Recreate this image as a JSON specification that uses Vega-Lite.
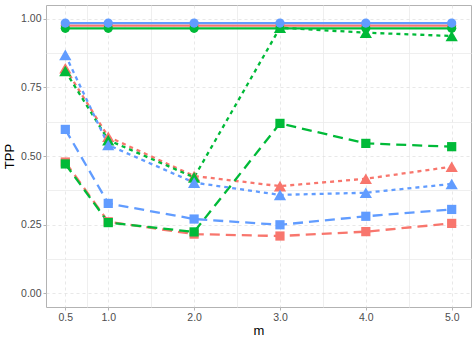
{
  "$schema": "https://vega.github.io/schema/vega-lite/v6.json",
  "width": 425,
  "height": 302,
  "autosize": "none",
  "padding": {"left": 46, "top": 5, "right": 5, "bottom": 33},
  "background": "white",
  "config": {
    "view": {"stroke": "#B3B3B3", "strokeWidth": 1},
    "font": "Liberation Sans",
    "axis": {
      "labelColor": "#4D4D4D",
      "labelFontSize": 10.5,
      "titleColor": "#000000",
      "titleFontSize": 13,
      "titleFontWeight": "normal",
      "tickColor": "#B3B3B3",
      "tickSize": 3,
      "domain": false,
      "labelPadding": 2
    }
  },
  "data": {
    "values": [
      {"m": 0.5, "TPP": 0.976, "method": "A", "type": "circle"},
      {"m": 1.0, "TPP": 0.976, "method": "A", "type": "circle"},
      {"m": 2.0, "TPP": 0.976, "method": "A", "type": "circle"},
      {"m": 3.0, "TPP": 0.976, "method": "A", "type": "circle"},
      {"m": 4.0, "TPP": 0.976, "method": "A", "type": "circle"},
      {"m": 5.0, "TPP": 0.976, "method": "A", "type": "circle"},
      {"m": 0.5, "TPP": 0.820, "method": "A", "type": "triangle"},
      {"m": 1.0, "TPP": 0.570, "method": "A", "type": "triangle"},
      {"m": 2.0, "TPP": 0.427, "method": "A", "type": "triangle"},
      {"m": 3.0, "TPP": 0.390, "method": "A", "type": "triangle"},
      {"m": 4.0, "TPP": 0.417, "method": "A", "type": "triangle"},
      {"m": 5.0, "TPP": 0.461, "method": "A", "type": "triangle"},
      {"m": 0.5, "TPP": 0.478, "method": "A", "type": "square"},
      {"m": 1.0, "TPP": 0.260, "method": "A", "type": "square"},
      {"m": 2.0, "TPP": 0.215, "method": "A", "type": "square"},
      {"m": 3.0, "TPP": 0.208, "method": "A", "type": "square"},
      {"m": 4.0, "TPP": 0.224, "method": "A", "type": "square"},
      {"m": 5.0, "TPP": 0.254, "method": "A", "type": "square"},
      {"m": 0.5, "TPP": 0.966, "method": "B", "type": "circle"},
      {"m": 1.0, "TPP": 0.966, "method": "B", "type": "circle"},
      {"m": 2.0, "TPP": 0.966, "method": "B", "type": "circle"},
      {"m": 3.0, "TPP": 0.966, "method": "B", "type": "circle"},
      {"m": 4.0, "TPP": 0.966, "method": "B", "type": "circle"},
      {"m": 5.0, "TPP": 0.966, "method": "B", "type": "circle"},
      {"m": 0.5, "TPP": 0.810, "method": "B", "type": "triangle"},
      {"m": 1.0, "TPP": 0.558, "method": "B", "type": "triangle"},
      {"m": 2.0, "TPP": 0.422, "method": "B", "type": "triangle"},
      {"m": 3.0, "TPP": 0.968, "method": "B", "type": "triangle"},
      {"m": 4.0, "TPP": 0.950, "method": "B", "type": "triangle"},
      {"m": 5.0, "TPP": 0.938, "method": "B", "type": "triangle"},
      {"m": 0.5, "TPP": 0.471, "method": "B", "type": "square"},
      {"m": 1.0, "TPP": 0.257, "method": "B", "type": "square"},
      {"m": 2.0, "TPP": 0.223, "method": "B", "type": "square"},
      {"m": 3.0, "TPP": 0.619, "method": "B", "type": "square"},
      {"m": 4.0, "TPP": 0.546, "method": "B", "type": "square"},
      {"m": 5.0, "TPP": 0.534, "method": "B", "type": "square"},
      {"m": 0.5, "TPP": 0.985, "method": "C", "type": "circle"},
      {"m": 1.0, "TPP": 0.985, "method": "C", "type": "circle"},
      {"m": 2.0, "TPP": 0.985, "method": "C", "type": "circle"},
      {"m": 3.0, "TPP": 0.985, "method": "C", "type": "circle"},
      {"m": 4.0, "TPP": 0.985, "method": "C", "type": "circle"},
      {"m": 5.0, "TPP": 0.985, "method": "C", "type": "circle"},
      {"m": 0.5, "TPP": 0.869, "method": "C", "type": "triangle"},
      {"m": 1.0, "TPP": 0.540, "method": "C", "type": "triangle"},
      {"m": 2.0, "TPP": 0.403, "method": "C", "type": "triangle"},
      {"m": 3.0, "TPP": 0.358, "method": "C", "type": "triangle"},
      {"m": 4.0, "TPP": 0.366, "method": "C", "type": "triangle"},
      {"m": 5.0, "TPP": 0.398, "method": "C", "type": "triangle"},
      {"m": 0.5, "TPP": 0.597, "method": "C", "type": "square"},
      {"m": 1.0, "TPP": 0.327, "method": "C", "type": "square"},
      {"m": 2.0, "TPP": 0.270, "method": "C", "type": "square"},
      {"m": 3.0, "TPP": 0.249, "method": "C", "type": "square"},
      {"m": 4.0, "TPP": 0.280, "method": "C", "type": "square"},
      {"m": 5.0, "TPP": 0.305, "method": "C", "type": "square"}
    ]
  },
  "encoding": {
    "x": {
      "field": "m",
      "type": "quantitative",
      "title": "m",
      "scale": {"domain": [0.275, 5.225], "nice": false, "zero": false},
      "axis": {
        "values": [0.5, 0.75, 1, 1.5, 2, 2.5, 3, 3.5, 4, 4.5, 5],
        "labelExpr": "indexof([0.5,1,2,3,4,5], datum.value) >= 0 ? format(datum.value, '.1f') : ''",
        "labelFlush": false,
        "titleColor": "#000000",
        "grid": true,
        "gridColor": {"condition": {"test": "indexof([0.5,1,2,3,4,5], datum.value) >= 0", "value": "#DEDEDE"}, "value": "#EBEBEB"},
        "gridDash": {"condition": {"test": "indexof([0.5,1,2,3,4,5], datum.value) >= 0", "value": [3, 3]}, "value": []},
        "gridWidth": {"condition": {"test": "indexof([0.5,1,2,3,4,5], datum.value) >= 0", "value": 0.7}, "value": 0.8},
        "tickOpacity": {"condition": {"test": "indexof([0.5,1,2,3,4,5], datum.value) >= 0", "value": 1}, "value": 0},
        "titlePadding": 2
      }
    },
    "y": {
      "field": "TPP",
      "type": "quantitative",
      "title": "TPP",
      "scale": {"domain": [-0.051, 1.051], "nice": false, "zero": false},
      "axis": {
        "values": [0, 0.125, 0.25, 0.375, 0.5, 0.625, 0.75, 0.875, 1],
        "labelExpr": "indexof([0,0.25,0.5,0.75,1], datum.value) >= 0 ? format(datum.value, '.2f') : ''",
        "labelFlush": false,
        "titleColor": "#000000",
        "grid": true,
        "gridColor": {"condition": {"test": "indexof([0,0.25,0.5,0.75,1], datum.value) >= 0", "value": "#DEDEDE"}, "value": "#EBEBEB"},
        "gridDash": {"condition": {"test": "indexof([0,0.25,0.5,0.75,1], datum.value) >= 0", "value": [3, 3]}, "value": []},
        "gridWidth": {"condition": {"test": "indexof([0,0.25,0.5,0.75,1], datum.value) >= 0", "value": 0.7}, "value": 0.8},
        "tickOpacity": {"condition": {"test": "indexof([0,0.25,0.5,0.75,1], datum.value) >= 0", "value": 1}, "value": 0},
        "titlePadding": 4
      }
    },
    "color": {
      "field": "method",
      "type": "nominal",
      "scale": {"domain": ["A", "B", "C"], "range": ["#F8766D", "#00BA38", "#619CFF"]},
      "legend": null
    }
  },
  "layer": [
    {
      "mark": {"type": "line", "strokeWidth": 2.3, "strokeCap": "butt"},
      "encoding": {
        "detail": {"field": "type", "type": "nominal"},
        "strokeDash": {
          "field": "type",
          "type": "nominal",
          "scale": {"domain": ["circle", "triangle", "square"], "range": [[1, 0], [4, 4], [10, 6]]},
          "legend": null
        }
      }
    },
    {
      "mark": {"type": "point", "filled": true, "opacity": 1},
      "encoding": {
        "shape": {
          "field": "type",
          "type": "nominal",
          "scale": {"domain": ["circle", "triangle", "square"], "range": ["circle", "triangle-up", "square"]},
          "legend": null
        },
        "size": {
          "condition": {"test": "datum.type === 'triangle'", "value": 150},
          "value": 85
        }
      }
    }
  ]
}
